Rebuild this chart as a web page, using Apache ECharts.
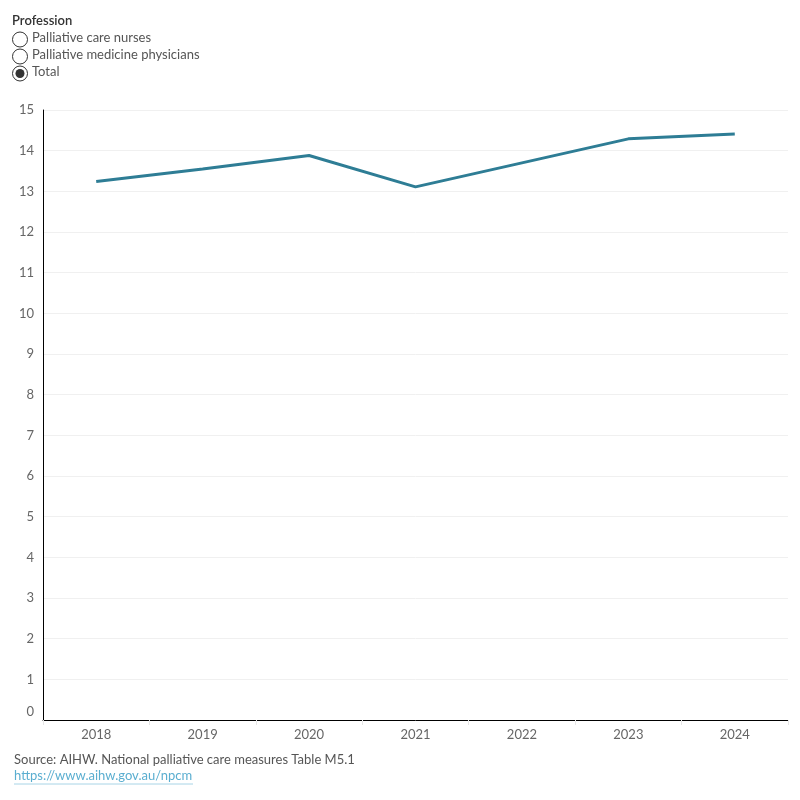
<!DOCTYPE html>
<html>
<head>
<meta charset="utf-8">
<script src="https://cdn.jsdelivr.net/npm/echarts@6/dist/echarts.min.js"></script>
<style>
  html, body { margin: 0; padding: 0; background: #fff; }
  #main { width: 800px; height: 800px; }
</style>
</head>
<body>
<div id="main"></div>
<script>
const years = ['2018', '2019', '2020', '2021', '2022', '2023', '2024'];
const totalValues = [13.24, 13.55, 13.88, 13.11, 13.70, 14.29, 14.41];
const professions = ['Palliative care nurses', 'Palliative medicine physicians', 'Total'];
const selectedProfession = 'Total';

const chart = echarts.init(document.getElementById('main'));
const font = 'Lato, "Open Sans", sans-serif';

// radio-button style filter at top left
const radioGraphics = [];
radioGraphics.push({
  type: 'text', left: 12, top: 14,
  style: { text: 'Profession', font: '600 13px ' + font, fill: '#333' }
});
professions.forEach((p, i) => {
  const cy = 39.5 + i * 17;
  radioGraphics.push({
    type: 'circle', shape: { cx: 20, cy: cy, r: 7.5 },
    style: { fill: '#fff', stroke: '#333', lineWidth: 1 }
  });
  if (p === selectedProfession) {
    radioGraphics.push({
      type: 'circle', shape: { cx: 20, cy: cy, r: 4.5 },
      style: { fill: '#333' }
    });
  }
  radioGraphics.push({
    type: 'text', left: 32, top: cy - 8,
    style: { text: p, font: '13px ' + font, fill: '#555' }
  });
});

// footer
radioGraphics.push({
  type: 'text', left: 14, top: 753,
  style: { text: 'Source: AIHW. National palliative care measures Table M5.1', font: '13px ' + font, fill: '#555' }
});
radioGraphics.push({
  type: 'text', left: 14, top: 769,
  style: { text: 'https://www.aihw.gov.au/npcm', font: '13px ' + font, fill: '#5aaed0' }
});
radioGraphics.push({
  type: 'line', shape: { x1: 14, y1: 784, x2: 193, y2: 784 },
  style: { stroke: '#a8d4e6', lineWidth: 1 }
});

const option = {
  backgroundColor: '#fff',
  animation: false,
  textStyle: { fontFamily: font },
  grid: { left: 43, right: 12, top: 110, bottom: 80 },
  graphic: radioGraphics,
  xAxis: {
    type: 'category',
    data: years,
    boundaryGap: true,
    axisLine: { lineStyle: { color: '#000', width: 1 } },
    axisTick: { show: true, length: 5, lineStyle: { color: '#e6e6e6' } },
    axisLabel: { color: '#666', fontSize: 13, margin: 8 }
  },
  yAxis: {
    type: 'value',
    min: 0,
    max: 15,
    interval: 1,
    axisLine: { show: true, lineStyle: { color: '#000', width: 1 } },
    axisTick: { show: false },
    splitLine: { lineStyle: { color: '#f0f0f0' } },
    axisLabel: {
      color: '#666', fontSize: 13, margin: 9,
      formatter: v => (v === 0 ? '{z|0}' : String(v)),
      rich: { z: { color: '#666', fontSize: 13, padding: [0, 0, 16, 0] } }
    }
  },
  series: [{
    name: 'Total',
    type: 'line',
    data: totalValues,
    symbol: 'none',
    lineStyle: { color: '#2e7d95', width: 3 },
    itemStyle: { color: '#2e7d95' }
  }]
};

chart.setOption(option);
</script>
</body>
</html>
